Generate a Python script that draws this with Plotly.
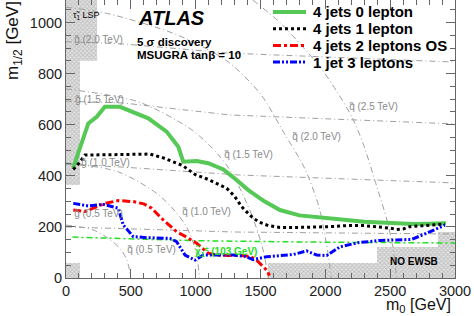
import plotly.graph_objects as go

# ---------------- data (m0, m1/2 in GeV) ----------------
j4l0_m0 = [55, 108, 172, 237, 300, 416, 520, 635, 776, 866, 904, 1008, 1097, 1213, 1300, 1406, 1530, 1650, 1800, 1933, 2036, 2164, 2300, 2498, 2678, 2800, 2930]
j4l0_m12 = [430, 513, 605, 631, 670, 670, 650, 625, 573, 514, 455, 458, 449, 425, 390, 344, 300, 266, 245, 237, 234, 227, 220, 214, 211, 212, 214]

j4l1_m0 = [56, 100, 146, 300, 500, 648, 750, 802, 900, 995, 1100, 1239, 1300, 1355, 1420, 1483, 1560, 1650, 1800, 2036, 2164, 2300, 2395, 2500, 2550, 2600, 2652, 2800, 2922]
j4l1_m12 = [425, 450, 481, 483, 485, 485, 470, 460, 440, 405, 385, 351, 320, 279, 245, 220, 205, 198, 198, 201, 205, 205, 201, 195, 190, 192, 201, 206, 211]

j4l2_m0 = [56, 146, 220, 300, 403, 519, 600, 661, 750, 853, 930, 1008, 1097, 1162, 1250, 1350, 1420, 1470, 1547, 1570]
j4l2_m12 = [266, 260, 275, 292, 303, 299, 290, 273, 227, 181, 160, 136, 97, 90, 88, 88, 85, 70, 31, 10]

j1l3_m0 = [56, 172, 288, 403, 442, 519, 622, 802, 853, 918, 995, 1059, 1150, 1290, 1380, 1444, 1547, 1650, 1753, 1856, 1933, 2010, 2113, 2250, 2421, 2550, 2665, 2781, 2850, 2922]
j1l3_m12 = [292, 282, 288, 273, 207, 162, 158, 155, 142, 90, 70, 90, 90, 90, 85, 72, 83, 88, 92, 106, 90, 88, 122, 138, 147, 149, 151, 175, 190, 207]

chargino_m0 = [50, 1000, 2000, 3000]
chargino_m12 = [160, 146, 140, 137]

# iso-mass guide lines
gl05_m0 = [0, 1300, 3000]; gl05_m12 = [200, 180, 172]
gl10_m0 = [0, 440, 1340, 3000]; gl10_m12 = [445, 434, 403, 372]
gl15_m0 = [0, 440, 1265, 3000]; gl15_m12 = [692, 685, 638, 603]
gl20_m0 = [0, 440, 1265, 3000]; gl20_m12 = [925, 916, 880, 845]

sq05_m0 = [0, 200, 340, 420, 470, 500]; sq05_m12 = [207, 190, 150, 113, 70, 0]
sq10_m0 = [0, 400, 700, 840, 930, 1000, 1030]; sq10_m12 = [450, 416, 331, 262, 200, 108, 0]
sq15_m0 = [0, 555, 970, 1170, 1280, 1430, 1520, 1560]; sq15_m12 = [740, 690, 580, 485, 410, 250, 110, 0]
sq20_m0 = [0, 320, 840, 1240, 1500, 1690, 1840, 1950, 2020, 2045]; sq20_m12 = [1060, 1035, 955, 850, 720, 560, 430, 280, 100, 0]
sq25_m0 = [1440, 1650, 1860, 1960, 2089, 2205, 2290, 2398, 2475, 2521, 2550]; sq25_m12 = [1088, 1000, 885, 826, 730, 630, 528, 356, 227, 121, 0]

# excluded regions
lsp_m0 = [0, 108, 108, 240, 240, 0]; lsp_m12 = [364, 364, 850, 850, 1100, 1100]
low_m0 = [0, 108, 108, 0]; low_m12 = [0, 0, 59, 59]
ewsb_m0 = [1557, 1557, 2398, 2398, 2868, 2868, 3000, 3000]; ewsb_m12 = [0, 59, 59, 121, 121, 180, 180, 0]

guide_labels = ["g̃ (2.0 TeV)", "g̃ (1.5 TeV)", "g̃ (1.0 TeV)", "g̃ (0.5 TeV)",
                "q̃ (0.5 TeV)", "q̃ (1.0 TeV)", "q̃ (1.5 TeV)", "q̃ (2.0 TeV)", "q̃ (2.5 TeV)"]
guide_label_m0 = [46, 54, 100, 46, 455, 879, 1203, 1727, 2166]
guide_label_m12 = [935, 697, 452, 254, 113, 262, 485, 552, 673]

series_names = ["4 jets 0 lepton", "4 jets 1 lepton", "4 jets 2 leptons OS", "1 jet 3 leptons"]

# ---------------- figure ----------------
FONT = "Liberation Sans, Arial, sans-serif"
GRAY = "#a0a0a0"
fig = go.Figure()

for xs, ys in [(lsp_m0, lsp_m12), (low_m0, low_m12), (ewsb_m0, ewsb_m12)]:
    fig.add_trace(go.Scatter(x=xs, y=ys, mode="lines", fill="toself",
                             line=dict(width=0, color="rgba(0,0,0,0)"),
                             fillcolor="#dedede",
                             fillpattern=dict(shape="x", fgcolor="#a0a0a0", bgcolor="#e2e2e2", size=3, solidity=0.5),
                             hoverinfo="skip", showlegend=False))

guide_dash = "6px,3px,1px,3px"
for xs, ys in [(gl05_m0, gl05_m12), (gl10_m0, gl10_m12), (gl15_m0, gl15_m12), (gl20_m0, gl20_m12)]:
    fig.add_trace(go.Scatter(x=xs, y=ys, mode="lines", line=dict(color=GRAY, width=1, dash=guide_dash),
                             hoverinfo="skip", showlegend=False))
for xs, ys in [(sq05_m0, sq05_m12), (sq10_m0, sq10_m12), (sq15_m0, sq15_m12), (sq20_m0, sq20_m12), (sq25_m0, sq25_m12)]:
    fig.add_trace(go.Scatter(x=xs, y=ys, mode="lines", line=dict(color=GRAY, width=1, dash=guide_dash, shape="spline", smoothing=0.8),
                             hoverinfo="skip", showlegend=False))

fig.add_trace(go.Scatter(x=chargino_m0, y=chargino_m12, mode="lines",
                         line=dict(color="#22e022", width=1.5, dash="6px,3px,2px,3px"), showlegend=False))

styles = [
    dict(color="#55c855", width=4, dash="solid"),
    dict(color="#000000", width=3, dash="3px,3px"),
    dict(color="#ff0000", width=3, dash="8px,3px,3px,3px"),
    dict(color="#0000ff", width=3, dash="7px,2px,2px,2px,2px,2px"),
]
for name, xs, ys, st in zip(series_names,
                            [j4l0_m0, j4l1_m0, j4l2_m0, j1l3_m0],
                            [j4l0_m12, j4l1_m12, j4l2_m12, j1l3_m12], styles):
    fig.add_trace(go.Scatter(x=xs, y=ys, mode="lines", name=name, line=st, showlegend=False))

# manual legend (paper coordinates)
W, H, L, T = 389.0, 278.0, 66, 0
def px(xp): return (xp - L) / W
def py(yp): return (H - (yp - T)) / H
for i, (name, st) in enumerate(zip(series_names, styles)):
    yy = py(12 + i * 16.7)
    fig.add_shape(type="line", xref="paper", yref="paper", x0=px(273), x1=px(306), y0=yy, y1=yy,
                  line=dict(color=st["color"], width=st["width"], dash=st["dash"]))
    fig.add_annotation(xref="paper", yref="paper", x=px(311), y=yy, xanchor="left", yanchor="middle",
                       text="<b>%s</b>" % name, showarrow=False, font=dict(family=FONT, size=15, color="#000"))

ann = []
for t, x, y in zip(guide_labels, guide_label_m0, guide_label_m12):
    ann.append(dict(x=x, y=y, text=t, xanchor="left", yanchor="middle", showarrow=False,
                    font=dict(family=FONT, size=10, color="#8a8a8a")))
ann += [
    dict(x=980, y=102, text="<b>χ̃<sub>1</sub><sup>±</sup> (103 GeV)</b>", xanchor="left", yanchor="middle",
         showarrow=False, font=dict(family=FONT, size=10, color="#22e022")),
    dict(x=40, y=1027, text="τ̃<sub>1</sub> LSP", xanchor="left", yanchor="middle", showarrow=False,
         font=dict(family=FONT, size=9, color="#000")),
    dict(x=2683, y=63, text="<b>NO EWSB</b>", xanchor="center", yanchor="middle", showarrow=False,
         font=dict(family=FONT, size=10, color="#000")),
    dict(x=540, y=1018, text="<b><i>ATLAS</i></b>", xanchor="left", yanchor="middle", showarrow=False,
         font=dict(family=FONT, size=20, color="#000")),
    dict(x=535, y=922, text="<b>5 σ discovery</b>", xanchor="left", yanchor="middle", showarrow=False,
         font=dict(family=FONT, size=11.5, color="#000")),
    dict(x=535, y=873, text="<b>MSUGRA tanβ = 10</b>", xanchor="left", yanchor="middle", showarrow=False,
         font=dict(family=FONT, size=11.5, color="#000")),
]
ann += [
    dict(xref="paper", yref="paper", x=px(453), y=py(305), xanchor="right", yanchor="middle",
         text="m<sub>0</sub> [GeV]", showarrow=False, font=dict(family=FONT, size=16, color="#111")),
    dict(xref="paper", yref="paper", x=px(14), y=py(41), xanchor="center", yanchor="middle", textangle=-90,
         text="m<sub>1/2</sub> [GeV]", showarrow=False, font=dict(family=FONT, size=17, color="#111")),
]
for a in ann:
    fig.add_annotation(**a)

axis_common = dict(showgrid=False, zeroline=False, showline=True, linecolor="#666", linewidth=1,
                   mirror="allticks", ticks="inside", ticklen=9, tickcolor="#666",
                   tickfont=dict(family=FONT, size=14.5, color="#222"))
fig.update_xaxes(range=[0, 3000], dtick=500, tick0=0, ticklabelstandoff=0,
                 minor=dict(dtick=100, ticks="inside", ticklen=5, tickcolor="#666"), **axis_common)
fig.update_yaxes(range=[0, 1088], dtick=200, tick0=0,
                 minor=dict(dtick=50, ticks="inside", ticklen=5, tickcolor="#666"), **axis_common)

fig.update_layout(width=474, height=316, margin=dict(l=66, r=19, t=0, b=38),
                  paper_bgcolor="white", plot_bgcolor="white", showlegend=False)

fig.write_html("out.html", config={"displayModeBar": False},
               post_script="document.body.style.margin='0px';")
